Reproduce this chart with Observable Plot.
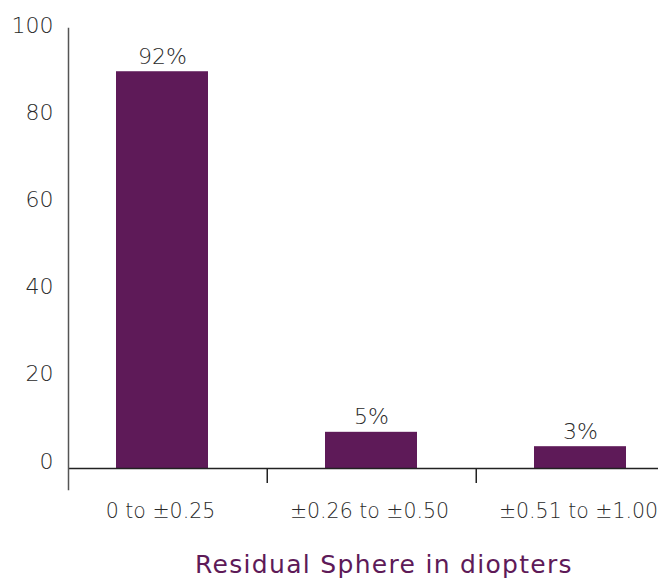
<!DOCTYPE html>
<html>
<head>
<meta charset="utf-8">
<script src="https://cdn.jsdelivr.net/npm/d3@7"></script>
<script src="https://cdn.jsdelivr.net/npm/@observablehq/plot@0.6"></script>
<style>
  html, body { margin: 0; padding: 0; background: #fff; }
  #chart { width: 658px; }
  #title {
    width: 658px; box-sizing: border-box; padding-left: 110px;
    text-align: center; font-family: "DejaVu Sans", sans-serif;
    font-weight: 400; font-size: 25px; letter-spacing: 1.3px; color: #5e1a58;
    margin-top: 20px; line-height: 30px;
  }
</style>
</head>
<body>
<div id="chart"></div>
<div id="title">Residual Sphere in diopters</div>
<script>
const categories = ["0 to \u00b10.25", "\u00b10.26 to \u00b10.50", "\u00b10.51 to \u00b11.00"];
const barHeights = [91, 8.3, 5];           // heights as drawn against the axis
const barLabels = ["92%", "5%", "3%"];
const yTicks = [0, 20, 40, 60, 80, 100];

const data = categories.map((c, i) => ({cat: c, value: barHeights[i], label: barLabels[i]}));
const boundaries = categories.slice(0, -1);

const purple = "#5e1a58";
const W = 658, H = 530;
const xRange = [56.5, 685];
const step = (xRange[1] - xRange[0]) / 3;
const font = "'DejaVu Sans', sans-serif";
const textColor = "#2a2a2a";

const chart = Plot.plot({
  width: W,
  height: H,
  marginLeft: 68,
  marginRight: 0,
  marginTop: 28,
  marginBottom: 41,
  style: {fontFamily: font, color: textColor, background: "#fff"},
  x: {domain: categories, range: xRange, paddingInner: 0.56, paddingOuter: 0.28, label: null},
  y: {domain: [0, 100], range: [468, 32], label: null},
  marks: [
    Plot.barY(data, {x: "cat", y: "value", fill: purple}),
    Plot.text(data, {x: "cat", y: "value", text: "label", lineAnchor: "bottom", dy: -8,
      fontSize: 22, fontWeight: 200, fill: textColor}),
    Plot.ruleY([0], {stroke: "#222", strokeWidth: 1.5}),
    Plot.frame({anchor: "left", stroke: "#555", strokeWidth: 1.5}),
    Plot.ruleX(boundaries, {x: d => d, y1: 0, y2: 0, insetBottom: -15, dx: step / 2, stroke: "#222", strokeWidth: 1.5}),
    Plot.axisY({ticks: yTicks, tickSize: 0, tickPadding: 15, lineAnchor: "bottom", fontSize: 22, fontWeight: 200, label: null, fill: textColor}),
    Plot.axisX({tickSize: 0, tickPadding: 14, fontSize: 20.5, fontWeight: 200, dx: -2, label: null, fill: textColor})
  ]
});
document.getElementById("chart").append(chart);
</script>
</body>
</html>
